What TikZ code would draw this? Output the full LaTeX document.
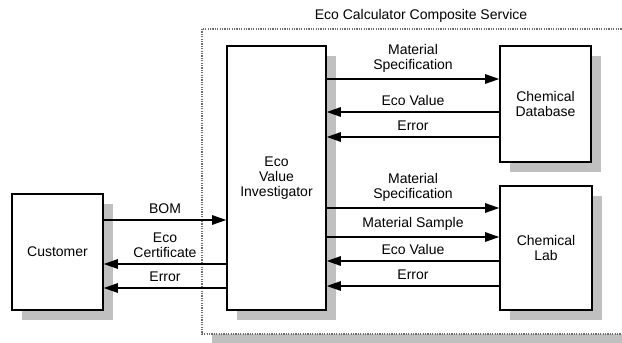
\documentclass[tikz,border=0pt]{standalone}
\usepackage{fontspec}
\setmainfont{Liberation Sans}
\definecolor{ShadowGrey}{HTML}{C0C0C0}
\definecolor{FrameGrey}{HTML}{6E6E6E}
\usetikzlibrary{arrows.meta,positioning,shadows}

\tikzset{
  svcbox/.style={
    draw=black,
    fill=white,
    line width=1.6pt,
    align=center,
    drop shadow={shadow xshift=10pt,shadow yshift=-10pt,fill=ShadowGrey,opacity=1}
  },
  msg/.style={line width=1.1pt,-{Triangle[length=14pt,width=9.5pt]}},
  msglabel/.style={inner sep=0pt,align=center}
}

\begin{document}
\begin{tikzpicture}[x=1pt,y=-1pt,font=\fontsize{14}{15}\selectfont]
    \useasboundingbox (0,0) rectangle (622,343);
    \clip (0,0) rectangle (622,343);

    % composite service boundary
    \draw[
      fill=white,
      draw=FrameGrey,
      line width=2.2pt,
      dash pattern=on 1.2pt off 1.2pt,
      drop shadow={shadow xshift=10pt,shadow yshift=-10pt,fill=ShadowGrey,opacity=1}
    ] (202,29) rectangle (660,334);
    \node (title) at (421,16) {Eco Calculator Composite Service};

    % participants
    \node[svcbox, minimum width=91pt, minimum height=116pt] (customer) at (57.5,252) {Customer};
    \node[svcbox, minimum width=99pt, minimum height=264pt] (evi) at (276.5,178) {Eco\\Value\\Investigator};
    \node[svcbox, minimum width=91pt, minimum height=116pt] (chemdb) at (545.5,104) {Chemical\\Database};
    \node[svcbox, minimum width=92pt, minimum height=124pt] (chemlab) at (546,248) {Chemical\\Lab};

    % message rows
    \coordinate (bom) at (0,220);
    \coordinate (cert) at (0,264);
    \coordinate (custerr) at (0,288);
    \coordinate (dbspec) at (0,79);
    \coordinate (dbvalue) at (0,112);
    \coordinate (dberr) at (0,137);
    \coordinate (labspec) at (0,208);
    \coordinate (labsample) at (0,237);
    \coordinate (labvalue) at (0,261);
    \coordinate (laberr) at (0,286);

    % customer <-> investigator
    \draw[msg] (customer.east |- bom) -- node[msglabel, above=6pt] {BOM} (evi.west |- bom);
    \draw[msg] (evi.west |- cert) -- node[msglabel, above=6pt] {Eco\\Certificate} (customer.east |- cert);
    \draw[msg] (evi.west |- custerr) -- node[msglabel, above=6pt] {Error} (customer.east |- custerr);

    % investigator <-> database
    \draw[msg] (evi.east |- dbspec) -- node[msglabel, above=6pt] {Material\\Specification} (chemdb.west |- dbspec);
    \draw[msg] (chemdb.west |- dbvalue) -- node[msglabel, above=6pt] {Eco Value} (evi.east |- dbvalue);
    \draw[msg] (chemdb.west |- dberr) -- node[msglabel, above=6pt] {Error} (evi.east |- dberr);

    % investigator <-> lab
    \draw[msg] (evi.east |- labspec) -- node[msglabel, above=6pt] {Material\\Specification} (chemlab.west |- labspec);
    \draw[msg] (evi.east |- labsample) -- node[msglabel, above=6pt] {Material Sample} (chemlab.west |- labsample);
    \draw[msg] (chemlab.west |- labvalue) -- node[msglabel, above=6pt] {Eco Value} (evi.east |- labvalue);
    \draw[msg] (chemlab.west |- laberr) -- node[msglabel, above=6pt] {Error} (evi.east |- laberr);
\end{tikzpicture}
\end{document}
